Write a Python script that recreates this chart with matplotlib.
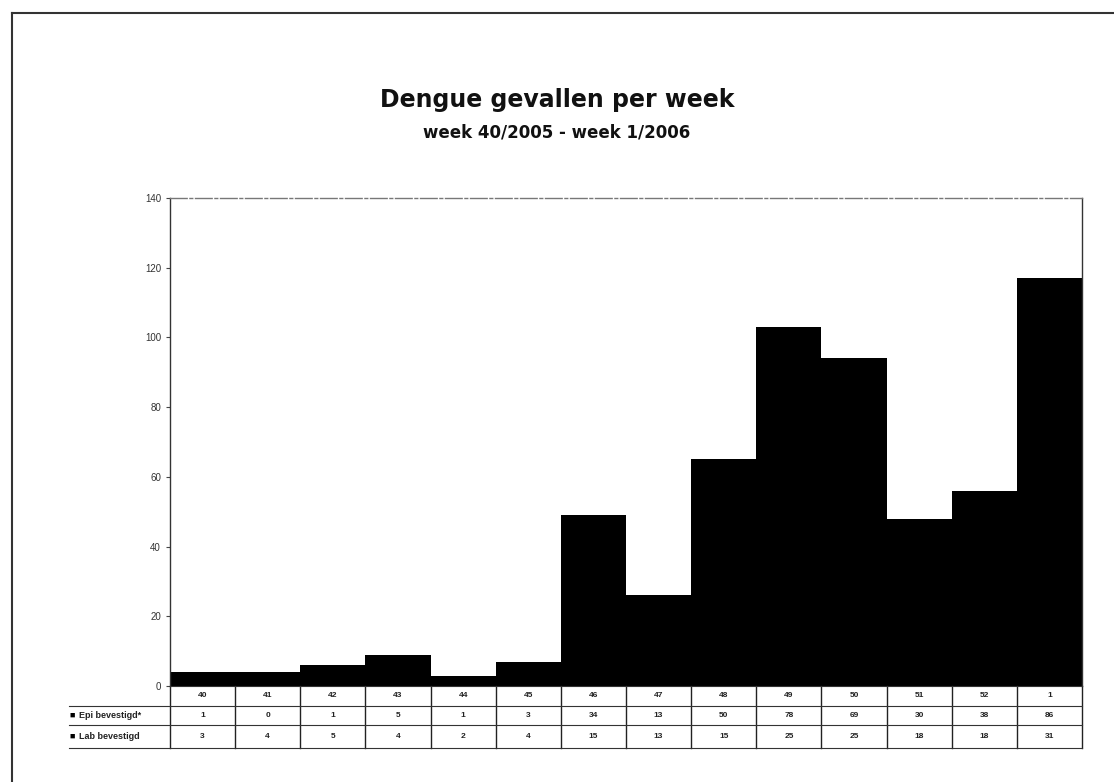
import matplotlib.pyplot as plt
from matplotlib.transforms import blended_transform_factory
from matplotlib.lines import Line2D

plt.rcParams['font.family'] = ['Liberation Sans', 'DejaVu Sans']

weeks = ["40", "41", "42", "43", "44", "45", "46", "47", "48", "49", "50", "51", "52", "1"]
epi = [1, 0, 1, 5, 1, 3, 34, 13, 50, 78, 69, 30, 38, 86]
lab = [3, 4, 5, 4, 2, 4, 15, 13, 15, 25, 25, 18, 18, 31]
row_labels = ["Epi bevestigd*", "Lab bevestigd"]

fig = plt.figure(figsize=(11.14, 7.82), dpi=100)
ax = fig.add_axes([0.1526, 0.1228, 0.8187, 0.624])

x = list(range(len(weeks)))
totals = [a + b for a, b in zip(lab, epi)]
# both series print as black; draw the total then the lower series on top
ax.bar(x, totals, width=1.0, color="black", linewidth=0, antialiased=False)
ax.bar(x, lab, width=1.0, color="black", linewidth=0, antialiased=False)

ax.set_xlim(-0.5, len(weeks) - 0.5)
ax.set_ylim(0, 140)
ax.set_yticks(range(0, 141, 20))
ax.tick_params(axis="y", labelsize=7, length=3, width=0.8, color="#444444", labelcolor="#333333")
ax.set_xticks([])
for s in ["left", "right"]:
    ax.spines[s].set_color("#333333")
    ax.spines[s].set_linewidth(1.0)
ax.spines["top"].set_color("#777777")
ax.spines["top"].set_linewidth(1.0)
ax.spines["top"].set_linestyle((0, (12, 2, 2, 2)))
ax.spines["bottom"].set_visible(False)

# table below the bars
tr = blended_transform_factory(ax.transData, ax.transAxes)
rows = [weeks, [str(v) for v in epi], [str(v) for v in lab]]
edges = [0.0, -0.041, -0.080, -0.127]
for r, vals in enumerate(rows):
    yc = (edges[r] + edges[r + 1]) / 2
    for i, v in enumerate(vals):
        ax.text(i, yc, v, transform=tr, ha="center", va="center", fontsize=6,
                fontweight="bold", color="#222222", clip_on=False)
for i in range(len(weeks) + 1):
    ax.add_line(Line2D([i - 0.5, i - 0.5], [edges[0], edges[-1]], transform=tr,
                       color="#222222", lw=1.0, clip_on=False))
for k, e in enumerate(edges):
    x0 = -0.5 if k == 0 else -2.05
    ax.add_line(Line2D([x0, len(weeks) - 0.5], [e, e], transform=tr,
                       color="#333333", lw=0.8, clip_on=False))
for r, lbl in enumerate(row_labels):
    yc = (edges[r + 1] + edges[r + 2]) / 2
    ax.text(-2.05, yc, "\u25a0", transform=tr, ha="left", va="center", fontsize=6.5,
            color="black", clip_on=False)
    ax.text(-1.9, yc, lbl, transform=tr, ha="left", va="center", fontsize=6.5,
            fontweight="bold", color="#222222", clip_on=False)

fig.text(0.5, 0.872, "Dengue gevallen per week", ha="center", va="center",
         fontsize=17, fontweight="bold", color="#111111", family="DejaVu Sans")
fig.text(0.5, 0.831, "week 40/2005 - week 1/2006", ha="center", va="center",
         fontsize=12, fontweight="bold", color="#111111", family="DejaVu Sans")

# page border (top and left)
fig.add_artist(Line2D([0.0105, 1.0], [0.984, 0.984], transform=fig.transFigure, color="#333333", lw=1.5))
fig.add_artist(Line2D([0.0105, 0.0105], [0.0, 0.984], transform=fig.transFigure, color="#333333", lw=1.5))

fig.savefig("out.png", dpi=100)
